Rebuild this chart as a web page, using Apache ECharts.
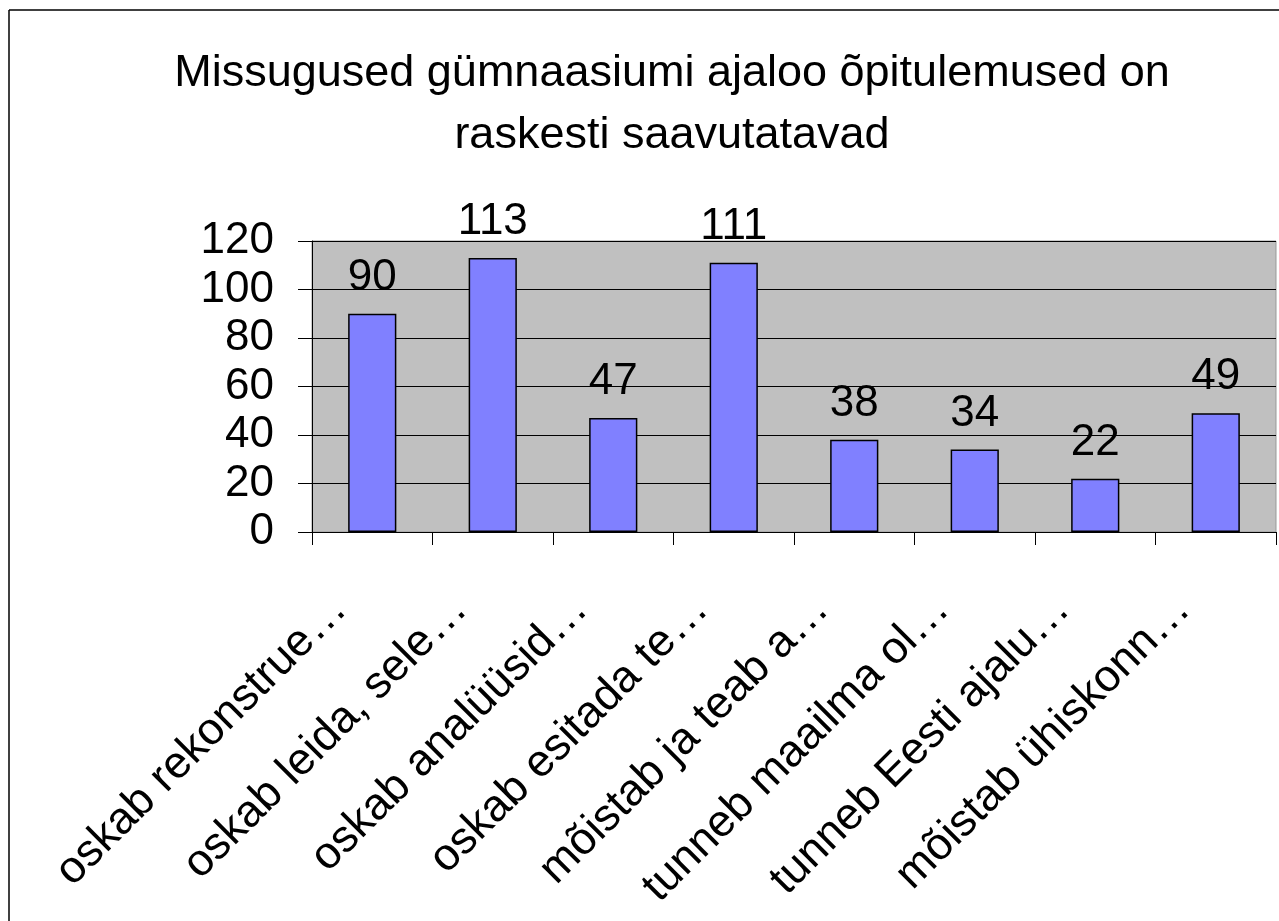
<!DOCTYPE html>
<html>
<head>
<meta charset="utf-8">
<script src="https://cdn.jsdelivr.net/npm/echarts@6/dist/echarts.min.js"></script>
<style>
html,body{margin:0;padding:0;background:#fff;}
#c{width:1279px;height:921px;}
</style>
</head>
<body>
<div id="c"></div>
<script>
const titleText = "Missugused gümnaasiumi ajaloo õpitulemused on\nraskesti saavutatavad";
const categories = [
  "oskab rekonstrue…",
  "oskab leida, sele…",
  "oskab analüüsid…",
  "oskab esitada te…",
  "mõistab ja teab a…",
  "tunneb maailma ol…",
  "tunneb Eesti ajalu…",
  "mõistab ühiskonn…"
];
const values = [90, 113, 47, 111, 38, 34, 22, 49];
const yTicks = { min: 0, max: 120, interval: 20 };

const chart = echarts.init(document.getElementById('c'), null, {renderer: 'canvas'});
const font = '"Liberation Sans", Arial, sans-serif';
chart.setOption({
  backgroundColor: '#ffffff',
  animation: false,
  title: {
    text: titleText,
    left: 667,
    textAlign: 'center',
    top: 38,
    textStyle: { fontFamily: font, fontSize: 45, fontWeight: 'normal', color: '#000', lineHeight: 62 }
  },
  grid: {
    left: 312, right: 3, top: 241, bottom: 389,
    show: true, backgroundColor: '#C0C0C0', borderColor: '#999999', borderWidth: 1
  },
  xAxis: {
    type: 'category',
    data: categories,
    axisLine: { lineStyle: { color: '#000', width: 1 } },
    axisTick: { show: true, length: 13, lineStyle: { color: '#000' } },
    axisLabel: {
      interval: 0, rotate: 45, margin: 38, color: '#000',
      fontFamily: font, fontSize: 45, padding: [0, 46, 0, 0]
    },
    splitLine: { show: false }
  },
  yAxis: {
    type: 'value',
    min: yTicks.min, max: yTicks.max, interval: yTicks.interval,
    axisLine: { show: true, lineStyle: { color: '#000', width: 1 } },
    axisTick: { show: true, length: 14, lineStyle: { color: '#000' } },
    axisLabel: { color: '#000', fontFamily: font, fontSize: 44, margin: 38 },
    splitLine: { show: true, lineStyle: { color: '#000', width: 1 } }
  },
  series: [{
    type: 'bar',
    data: values,
    barWidth: '40%',
    itemStyle: { color: '#8080FF', borderColor: '#000', borderWidth: 1.5 },
    label: {
      show: true, position: 'top', distance: 14, color: '#000',
      fontFamily: font, fontSize: 44
    }
  }],
  graphic: [
    { type: 'line', shape: { x1: 9, y1: 10, x2: 9, y2: 921 }, style: { stroke: '#000', lineWidth: 1.5 } },
    { type: 'line', shape: { x1: 9, y1: 10, x2: 1279, y2: 10 }, style: { stroke: '#000', lineWidth: 1.5 } }
  ]
});
</script>
</body>
</html>
